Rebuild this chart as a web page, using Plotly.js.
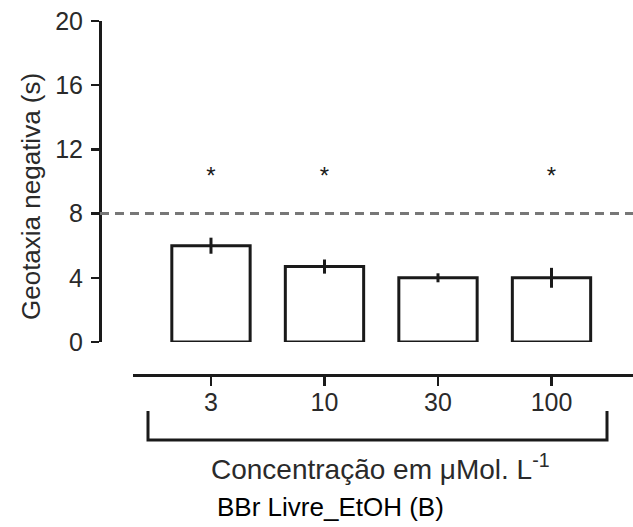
<!DOCTYPE html>
<html>
<head>
<meta charset="utf-8">
<script src="https://cdn.plot.ly/plotly-3.0.1.min.js"></script>
<style>
  html, body { margin: 0; padding: 0; background: #fff; }
  #chart { width: 633px; height: 527px; }
</style>
</head>
<body>
<div id="chart"></div>
<script>
// Geotaxia negativa por concentração (média ± erro)
const concentrations = ['3', '10', '30', '100'];
const geotaxia = [6.0, 4.7, 4.0, 4.0];
const errors = [0.5, 0.44, 0.28, 0.62];
const significant = [true, true, false, true];
const referenceLevel = 8;
const starLevel = 10.2;
const yTicks = [0, 4, 8, 12, 16, 20];

const ink = '#1a1a1a';
const fontFamily = 'Liberation Sans, Arial, sans-serif';

const bars = {
  type: 'bar',
  x: concentrations,
  y: geotaxia,
  width: 0.69,
  marker: { color: '#ffffff', line: { color: ink, width: 3 } },
  error_y: { type: 'data', array: errors, visible: true, color: ink, thickness: 3, width: 0 },
  hoverinfo: 'x+y'
};

const starX = concentrations.filter((c, i) => significant[i]);
const stars = {
  type: 'scatter',
  mode: 'text',
  x: starX,
  y: starX.map(() => starLevel),
  text: starX.map(() => '*'),
  textposition: 'middle center',
  textfont: { family: fontFamily, size: 24, color: ink },
  hoverinfo: 'skip'
};

// pixel geometry of the plotting area
const W = 633, H = 527;
const M = { l: 100, r: 0, t: 21, b: 152 };
const plotW = W - M.l - M.r, plotH = H - M.t - M.b;
const px = v => (v - M.l) / plotW;          // page x -> paper x
const py = v => (H - M.b - v) / plotH;      // page y -> paper y

const layout = {
  width: W,
  height: H,
  margin: M,
  paper_bgcolor: '#ffffff',
  plot_bgcolor: '#ffffff',
  showlegend: false,
  font: { family: fontFamily, color: '#2a2a2a', size: 25 },
  xaxis: {
    type: 'category',
    domain: [33 / plotW, 1],
    anchor: 'free',
    position: 0,
    range: [-0.687, 3.718],
    showline: true,
    linecolor: ink,
    linewidth: 3,
    ticks: 'outside',
    ticklen: 9,
    tickwidth: 2.5,
    tickcolor: ink,
    ticklabelstandoff: -5,
    tickfont: { size: 25, color: '#2a2a2a' },
    showgrid: false,
    zeroline: false,
    fixedrange: true
  },
  yaxis: {
    domain: [33 / plotH, 1],
    anchor: 'free',
    position: 0,
    range: [0, 20],
    tickvals: yTicks,
    ticktext: yTicks.map(String),
    showline: true,
    linecolor: ink,
    linewidth: 3,
    ticks: 'outside',
    ticklen: 8,
    tickwidth: 2.5,
    tickcolor: ink,
    ticklabelstandoff: 3,
    tickfont: { size: 25, color: '#2a2a2a' },
    showgrid: false,
    zeroline: false,
    fixedrange: true
  },
  shapes: [
    // reference level
    {
      type: 'line', xref: 'paper', yref: 'y',
      x0: 0, x1: 1, y0: referenceLevel, y1: referenceLevel,
      line: { color: '#777777', width: 3, dash: '9px,6px' }
    },
    // bracket grouping the concentrations
    {
      type: 'path', xref: 'paper', yref: 'paper',
      path: `M ${px(148)} ${py(411)} L ${px(148)} ${py(440)} L ${px(607)} ${py(440)} L ${px(607)} ${py(411)}`,
      line: { color: ink, width: 3 }
    }
  ],
  annotations: [
    {
      xref: 'paper', yref: 'paper', x: px(31), y: py(197),
      text: 'Geotaxia negativa (s)', textangle: -90, showarrow: false,
      font: { size: 26, color: '#2a2a2a' }, xanchor: 'center', yanchor: 'middle'
    },
    {
      xref: 'paper', yref: 'paper', x: px(380), y: py(467),
      text: 'Concentração em μMol. L<sup>-1</sup>', showarrow: false,
      font: { size: 28, color: '#2a2a2a' }, xanchor: 'center', yanchor: 'middle'
    },
    {
      xref: 'paper', yref: 'paper', x: px(330), y: py(507),
      text: 'BBr Livre_EtOH (B)', showarrow: false,
      font: { size: 26, color: '#000000' }, xanchor: 'center', yanchor: 'middle'
    }
  ]
};

Plotly.newPlot('chart', [bars, stars], layout, { displayModeBar: false, staticPlot: true });
</script>
</body>
</html>
